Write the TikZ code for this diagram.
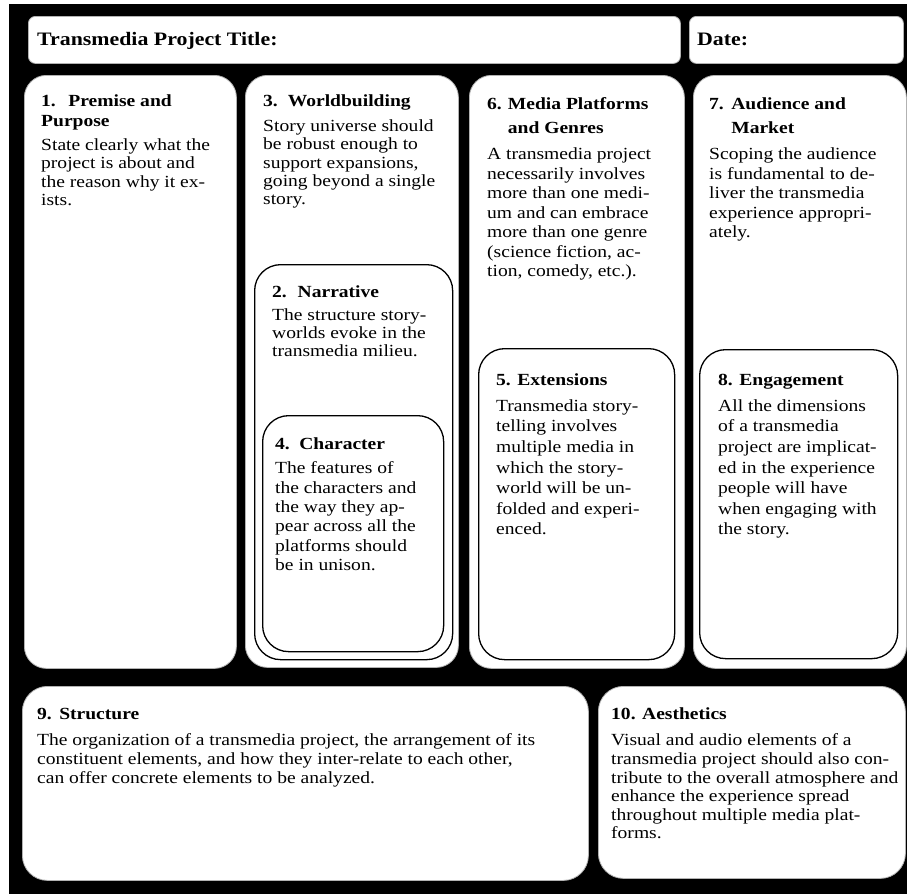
\documentclass[tikz,border=0pt]{standalone}
\usepackage{fontspec}
\setmainfont{Liberation Serif}[FakeStretch=1.15]
\begin{document}
\begin{tikzpicture}[x=1pt,y=-1pt,
  obox/.style={draw=gray!60, line width=0.8pt, fill=white, rounded corners=22pt, anchor=north west, inner sep=0pt},
  ibox/.style={draw=black, line width=1.3pt, fill=white, rounded corners=26pt, anchor=north west, inner sep=0pt},
  tbox/.style={draw=gray!60, line width=0.8pt, fill=white, rounded corners=7pt, anchor=north west, inner sep=0pt},
  txt/.style={anchor=north west, inner sep=0pt, align=left, font=\fontsize{17}{#1}\selectfont},
  txt/.default=20pt,
  ttxt/.style={anchor=north west, inner sep=0pt, align=left, font=\fontsize{19}{20}\selectfont\bfseries}
]
\useasboundingbox (0,0) rectangle (907,894);
\fill[white] (0,0) rectangle (907,894);
\fill[black] (9,4) rectangle (907,894);

% header
\node[tbox, minimum width=652pt, minimum height=47pt] (title) at (28,16) {};
\node[tbox, minimum width=214pt, minimum height=47pt] (date) at (689,16) {};
\node[ttxt] (ttitle) at (37,45-15) {\rule{0pt}{15pt}Transmedia Project Title:};
\node[ttxt] (tdate) at (697,45-15) {\rule{0pt}{15pt}Date:};

% column boxes
\node[obox, minimum width=212pt, minimum height=593pt] (b1) at (24,75) {};
\node[obox, minimum width=213pt, minimum height=592pt] (b3) at (245,75) {};
\node[ibox, minimum width=198pt, minimum height=395pt] (b2) at (254,264) {};
\node[ibox, minimum width=181pt, minimum height=236pt] (b4) at (262,415) {};
\node[obox, minimum width=215pt, minimum height=593pt] (b6) at (469,75) {};
\node[ibox, minimum width=196pt, minimum height=311pt] (b5) at (478,348) {};
\node[obox, minimum width=213pt, minimum height=593pt] (b7) at (693,75) {};
\node[ibox, minimum width=198pt, minimum height=309pt] (b8) at (699,349) {};

% bottom boxes
\node[obox, rounded corners=25pt, minimum width=566pt, minimum height=194pt] (b9) at (22,686) {};
\node[obox, rounded corners=25pt, minimum width=307pt, minimum height=192pt] (b10) at (598,686) {};

% texts
\node[txt=18.5pt] (t1) at (41,106-14) {\rule{0pt}{14pt}\textbf{\makebox[1.6em][l]{1.}Premise and}\\[2pt]
\textbf{Purpose}\\[5pt]
State clearly what the\\
project is about and\\
the reason why it ex-\\
ists.};

\node[txt=18.3pt] (t3) at (263,106-14) {\rule{0pt}{14pt}\textbf{\makebox[1.45em][l]{3.}Worldbuilding}\\[7pt]
Story universe should\\
be robust enough to\\
support expansions,\\
going beyond a single\\
story.};

\node[txt=18pt] (t2) at (272,297-14) {\rule{0pt}{14pt}\textbf{\makebox[1.5em][l]{2.}Narrative}\\[5pt]
The structure story-\\
worlds evoke in the\\
transmedia milieu.};

\node[txt=19.4pt] (t4) at (275,449-14) {\rule{0pt}{14pt}\textbf{\makebox[1.42em][l]{4.}Character}\\[5pt]
The features of\\
the characters and\\
the way they ap-\\
pear across all the\\
platforms should\\
be in unison.};

\node[txt=19.5pt] (t6) at (487,109-14) {\rule{0pt}{14pt}\textbf{\makebox[1.22em][l]{6.}Media Platforms}\\[5pt]
\textbf{\hspace*{1.22em}and Genres}\\[6.7pt]
A transmedia project\\
necessarily involves\\
more than one medi-\\
um and can embrace\\
more than one genre\\
(science fiction, ac-\\
tion, comedy, etc.).};

\node[txt=19.5pt] (t7) at (709,109-14) {\rule{0pt}{14pt}\textbf{\makebox[1.3em][l]{7.}Audience and}\\[5pt]
\textbf{\hspace*{1.3em}Market}\\[6.7pt]
Scoping the audience\\
is fundamental to de-\\
liver the transmedia\\
experience appropri-\\
ately.};

\node[txt=20.6pt] (t5) at (496,385-14) {\rule{0pt}{14pt}\textbf{5. Extensions}\\[5.4pt]
Transmedia story-\\
telling involves\\
multiple media in\\
which the story-\\
world will be un-\\
folded and experi-\\
enced.};

\node[txt=20.6pt] (t8) at (718,385-14) {\rule{0pt}{14pt}\textbf{8. Engagement}\\[5.4pt]
All the dimensions\\
of a transmedia\\
project are implicat-\\
ed in the experience\\
people will have\\
when engaging with\\
the story.};

\node[txt=18.6pt] (t9) at (37,719-14) {\rule{0pt}{14pt}\textbf{\makebox[1.3em][l]{9.}Structure}\\[8pt]
The organization of a transmedia project, the arrangement of its\\
constituent elements, and how they inter-relate to each other,\\
can offer concrete elements to be analyzed.};

\node[txt=18.6pt] (t10) at (611,719-14) {\rule{0pt}{14pt}\textbf{10. Aesthetics}\\[8pt]
Visual and audio elements of a\\
transmedia project should also con-\\
tribute to the overall atmosphere and\\
enhance the experience spread\\
throughout multiple media plat-\\
forms.};
\end{tikzpicture}
\end{document}
